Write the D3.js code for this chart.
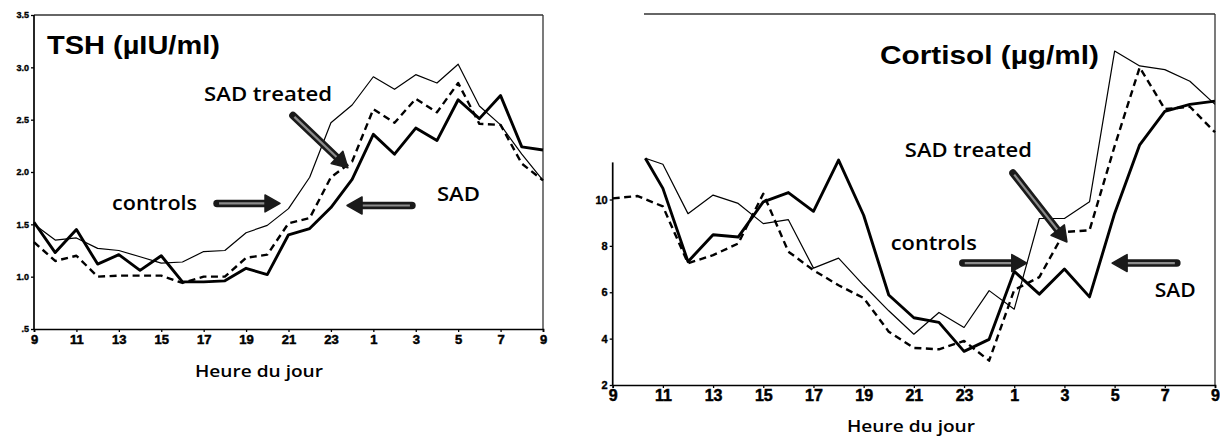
<!DOCTYPE html>
<html><head><meta charset="utf-8">
<script src="https://cdn.jsdelivr.net/npm/d3@7"></script>
<style>body{margin:0;background:#fff}svg{display:block}</style>
</head><body>
<svg id="c" width="1220" height="437"></svg>
<script>
// ---------- data ----------
const xTickHours = [0,2,4,6,8,10,12,14,16,18,20,22,24];
const xTickLabels = ["9","11","13","15","17","19","21","23","1","3","5","7","9"];

const tshHours = [0,1,2,3,4,5,6,7,8,9,10,11,12,13,14,15,16,17,18,19,20,21,22,23,24];
const tshControls = [1.50,1.35,1.37,1.27,1.25,1.19,1.13,1.14,1.24,1.25,1.42,1.49,1.65,1.95,2.47,2.64,2.91,2.79,2.93,2.85,3.03,2.63,2.45,2.17,1.92];
const tshSAD      = [1.52,1.23,1.45,1.12,1.21,1.06,1.20,0.95,0.95,0.96,1.08,1.02,1.40,1.46,1.66,1.93,2.36,2.17,2.42,2.30,2.69,2.51,2.73,2.24,2.21];
const tshTreated  = [1.33,1.15,1.20,1.00,1.01,1.01,1.01,0.94,1.00,1.00,1.18,1.21,1.51,1.56,1.95,2.10,2.60,2.47,2.70,2.57,2.85,2.46,2.45,2.08,1.92];
const tshTicks = [0.5,1,1.5,2,2.5,3,3.5];
const tshTickLabels = [".5","1.0","1.5","2.0","2.5","3.0","3.5"];

const cortHours = [1.3,2,3,4,5,6,7,8,9,10,11,12,13,14,15,16,17,18,19,20,21,22,23,24];
const cortSAD      = [11.78,10.48,7.32,8.48,8.38,9.90,10.30,9.49,11.70,9.32,5.88,4.90,4.70,3.45,3.97,6.90,5.92,7.00,5.80,9.40,12.36,13.80,14.10,14.24];
const cortControls = [11.78,11.52,9.39,10.19,9.83,8.96,9.13,7.04,7.47,6.30,5.20,4.19,5.13,4.48,6.07,5.27,9.18,9.18,9.90,16.40,15.76,15.60,15.10,14.10];
const cortTreatedHours = [0,1,2,3,4,5,6,7,8,9,10,11,12,13,14,15,16,17,18,19,20,21,22,23,24];
const cortTreated  = [10.05,10.15,9.70,7.25,7.60,8.10,10.25,7.75,6.95,6.30,5.75,4.30,3.60,3.54,3.90,3.05,6.10,6.65,8.60,8.67,12.30,15.70,13.90,14.00,12.90];
const cortTicks = [2,4,6,8,10];

// ---------- drawing ----------
const svg = d3.select("#c");
const styles = {
  "controls":    {w:1.2, dash:null},
  "SAD":         {w:2.9, dash:null},
  "SAD treated": {w:2.4, dash:"7,4.5"}
};
const annFont = "'Open Sans','Noto Sans',sans-serif";
const titleFont = "'Liberation Sans',Arial,sans-serif";
const tickFont = "'Liberation Sans Narrow','Liberation Sans',Arial,sans-serif";

function drawArrow(g, x1, y1, x2, y2) {
  const dx = x2 - x1, dy = y2 - y1, L = Math.hypot(dx, dy);
  const ux = dx / L, uy = dy / L, px = -uy, py = ux;
  const hl = 15, hw = 8.5;
  const bx = x2 - ux * hl, by = y2 - uy * hl;
  g.append("line").attr("x1", x1).attr("y1", y1).attr("x2", bx + ux*2).attr("y2", by + uy*2)
    .attr("stroke", "#1a1a1a").attr("stroke-width", 7.5).attr("stroke-linecap", "round");
  g.append("line").attr("x1", x1 + ux*2).attr("y1", y1 + uy*2).attr("x2", bx).attr("y2", by)
    .attr("stroke", "#8c8c8c").attr("stroke-width", 2.2);
  g.append("path")
    .attr("d", `M${x2},${y2}L${bx + px*hw},${by + py*hw}L${bx - px*hw},${by - py*hw}Z`)
    .attr("fill", "#1a1a1a").attr("stroke", "#1a1a1a").attr("stroke-width", 1.5).attr("stroke-linejoin", "round");
}

function drawChart(cfg) {
  const g = svg.append("g");
  const x = cfg.x, y = cfg.y;
  // frame
  g.append("line").attr("x1", cfg.topStart).attr("x2", x.range()[1]).attr("y1", y.range()[1]).attr("y2", y.range()[1])
    .attr("stroke", "#333").attr("stroke-width", 1.3);
  g.append("line").attr("x1", x.range()[1]).attr("x2", x.range()[1]).attr("y1", y.range()[1]).attr("y2", y.range()[0])
    .attr("stroke", "#333").attr("stroke-width", 1.3);
  // y axis
  const ya = g.append("g").attr("transform", `translate(${x.range()[0]},0)`)
    .call(d3.axisLeft(y).tickValues(cfg.yTicks).tickFormat((d, i) => cfg.yLabels[i]).tickSize(3).tickPadding(2));
  ya.select(".domain").remove();
  ya.append("line").attr("x1", 0).attr("x2", 0).attr("y1", y(cfg.yAxisTop)).attr("y2", y.range()[0])
    .attr("stroke", "#000").attr("stroke-width", 1.7);
  ya.selectAll("text").attr("font-family", titleFont).attr("font-weight", "bold")
    .attr("font-size", cfg.yFont).attr("fill", "#000").attr("stroke", "#000").attr("stroke-width", 0.35);
  ya.selectAll(".tick line").attr("stroke", "#000").attr("stroke-width", 1.3);
  // x axis
  const xa = g.append("g").attr("transform", `translate(0,${y.range()[0]})`)
    .call(d3.axisBottom(x).tickValues(xTickHours).tickFormat((d, i) => xTickLabels[i]).tickSize(3).tickPadding(cfg.xPad));
  xa.select(".domain").attr("stroke", "#000").attr("stroke-width", 1.7);
  xa.selectAll("text").attr("font-family", tickFont).attr("font-weight", "bold")
    .attr("font-size", cfg.xFont).attr("fill", "#000").attr("stroke", "#000").attr("stroke-width", 0.5);
  xa.selectAll(".tick line").attr("stroke", "#000").attr("stroke-width", 1.3);
  // axis title
  g.append("text").attr("x", cfg.axisTitle[0]).attr("y", cfg.axisTitle[1]).attr("text-anchor", "middle")
    .attr("font-family", annFont).attr("font-weight", 600).attr("font-size", 16.5).attr("fill", "#000")
    .attr("textLength", 128).attr("lengthAdjust", "spacingAndGlyphs").text("Heure du jour");
  // lines
  cfg.series.forEach(s => {
    const st = styles[s.name];
    const pts = s.hours.map((h, i) => [h, s.values[i]]);
    g.append("path").datum(pts)
      .attr("d", d3.line().x(d => x(d[0])).y(d => y(d[1])))
      .attr("fill", "none").attr("stroke", "#000").attr("stroke-width", st.w)
      .attr("stroke-linejoin", "round")
      .attr("stroke-dasharray", st.dash);
  });
  // title
  const t = cfg.title;
  g.append("text").attr("x", x(t.h)).attr("y", y(t.v)).attr("font-family", titleFont).attr("font-weight", "bold")
    .attr("font-size", 26).attr("fill", "#000").attr("textLength", t.len).attr("lengthAdjust", "spacingAndGlyphs").text(t.text);
  // annotations
  cfg.labels.forEach(l => {
    g.append("text").attr("x", x(l.h)).attr("y", y(l.v)).attr("font-family", annFont).attr("font-weight", 600)
      .attr("font-size", 19.5).attr("fill", "#000").attr("textLength", l.len).attr("lengthAdjust", "spacingAndGlyphs").text(l.text);
  });
  cfg.arrows.forEach(a => drawArrow(g, x(a[0]), y(a[1]), x(a[2]), y(a[3])));
}

drawChart({
  x: d3.scaleLinear([0, 24], [34, 543]),
  y: d3.scaleLinear([0.5, 3.5], [329, 15]),
  topStart: 34,
  yTicks: tshTicks, yLabels: tshTickLabels, yAxisTop: 3.5, yFont: 9,
  xFont: 13, xPad: 3,
  axisTitle: [259, 377],
  series: [
    {name: "controls", hours: tshHours, values: tshControls},
    {name: "SAD", hours: tshHours, values: tshSAD},
    {name: "SAD treated", hours: tshHours, values: tshTreated}
  ],
  title: {text: "TSH (µIU/ml)", h: 0.61, v: 3.13, len: 173},
  labels: [
    {text: "SAD treated", h: 8.02, v: 2.68, len: 128},
    {text: "controls", h: 3.68, v: 1.64, len: 85},
    {text: "SAD", h: 19.0, v: 1.72, len: 43}
  ],
  arrows: [
    [8.63, 1.70, 11.6, 1.70],
    [17.82, 1.68, 14.76, 1.68],
    [12.21, 2.54, 14.8, 2.04]
  ]
});

drawChart({
  x: d3.scaleLinear([0, 24], [612.7, 1215]),
  y: d3.scaleLinear([2, 18], [385, 14]),
  topStart: 644,
  yTicks: cortTicks, yLabels: cortTicks.map(String), yAxisTop: 11.6, yFont: 11,
  xFont: 16, xPad: 2,
  axisTitle: [911, 432],
  series: [
    {name: "controls", hours: cortHours, values: cortControls},
    {name: "SAD", hours: cortHours, values: cortSAD},
    {name: "SAD treated", hours: cortTreatedHours, values: cortTreated}
  ],
  title: {text: "Cortisol (µg/ml)", h: 10.65, v: 15.84, len: 219},
  labels: [
    {text: "SAD treated", h: 11.64, v: 11.83, len: 127},
    {text: "controls", h: 11.08, v: 7.82, len: 86},
    {text: "SAD", h: 21.6, v: 5.79, len: 41}
  ],
  arrows: [
    [13.95, 7.26, 16.5, 7.26],
    [22.48, 7.26, 19.9, 7.26],
    [15.95, 11.14, 18.1, 8.17]
  ]
});
</script>
</body></html>
